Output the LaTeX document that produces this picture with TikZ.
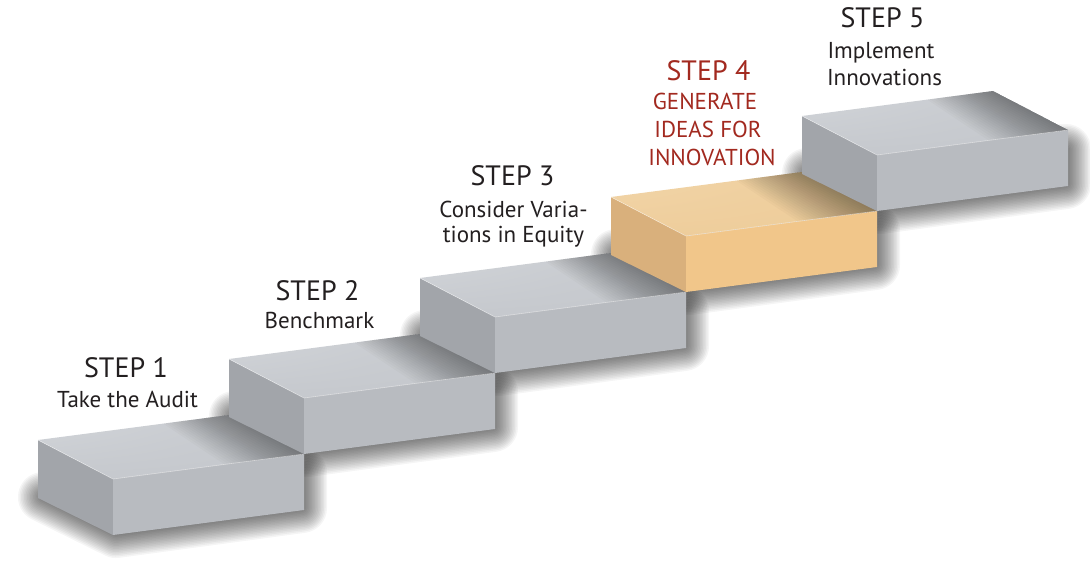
\documentclass[tikz,border=0pt]{standalone}
\usepackage{fontspec}
\setmainfont{PT Sans}
\usetikzlibrary{shadings}
\definecolor{txt}{HTML}{231F20}
\definecolor{redtxt}{HTML}{A2291F}
\definecolor{gtop}{HTML}{C5C8CD}
\definecolor{gtopL}{HTML}{D3D6DA}
\definecolor{gfront}{HTML}{B8BBC0}
\definecolor{gleft}{HTML}{A2A5AA}
\definecolor{otop}{HTML}{EECD9B}
\definecolor{otopL}{HTML}{F2D6AA}
\definecolor{ofront}{HTML}{F1C68A}
\definecolor{oleft}{HTML}{D9B07C}
\tikzset{
  steptitle/.style={font=\fontsize{28}{30}\selectfont, text=txt, anchor=base, inner sep=0pt},
  stepsub/.style={font=\fontsize{23}{25}\selectfont, text=txt, anchor=base, inner sep=0pt},
  redtitle/.style={font=\fontsize{28}{30}\selectfont, text=redtxt, anchor=base, inner sep=0pt},
  redsub/.style={font=\fontsize{23}{25}\selectfont, text=redtxt, anchor=base, inner sep=0pt},
}
% soft drop shadow of block with front-left-top corner (#1,#2)
\newcommand\blockshadow[2]{%
  \foreach \w in {2,5,...,50}{%
    \filldraw[black, opacity=0.038, line width=\w pt, line join=round]
      (#1-70,#2+18) -- (#1+3,#2+54) -- (#1+189,#2+29) -- (#1+189,#2-6) -- (#1+120,#2-6) -- cycle;
  }%
}
% block: #1,#2 front-left-top corner; #3 top light, #4 top, #5 front, #6 left
\newcommand\stepblock[6]{%
  % left face
  \fill[#6] (#1-75,#2-39) -- (#1,#2) -- (#1,#2+56) -- (#1-75,#2+19) -- cycle;
  % front face
  \fill[#5] (#1,#2) -- (#1+191,#2-25) -- (#1+191,#2+31) -- (#1,#2+56) -- cycle;
  % top face
  \begin{scope}
    \clip (#1-75,#2-39) -- (#1,#2) -- (#1+191,#2-25) -- (#1+116,#2-64) -- cycle;
    \shade[upper left=#3, lower left=#4, upper right=#4, lower right=#4]
      (#1-76,#2-65) rectangle (#1+192,#2+1);
    \foreach \w in {3,6,...,66}{%
      \fill[black, opacity=0.018]
        (#1+116-\w,#2-64+0.13*\w) -- (#1+116,#2-64) -- (#1+191,#2-25) -- (#1+191-\w*1.2,#2-25+0.16*\w) -- cycle;
    }
  \end{scope}
  \draw[white, opacity=0.5, line width=0.6pt] (#1-75,#2-39) -- (#1,#2) -- (#1+191,#2-25);
}
\begin{document}
\begin{tikzpicture}[x=1pt,y=-1pt]
\useasboundingbox (0,0) rectangle (1090,576);
\fill[white] (0,0) rectangle (1090,576);
% shadows
\blockshadow{113}{479}
\blockshadow{304}{398}
\blockshadow{495}{317}
\blockshadow{686}{236}
\blockshadow{877}{155}
% blocks
\stepblock{113}{479}{gtopL}{gtop}{gfront}{gleft}
\stepblock{304}{398}{gtopL}{gtop}{gfront}{gleft}
\stepblock{495}{317}{gtopL}{gtop}{gfront}{gleft}
\stepblock{686}{236}{otopL}{otop}{ofront}{oleft}
\stepblock{877}{155}{gtopL}{gtop}{gfront}{gleft}
% texts
\node[steptitle] (s1) at (126,377) {STEP 1};
\node[stepsub] (s1a) at (127.5,407) {Take the Audit};
\node[steptitle] (s2) at (317.5,300) {STEP 2};
\node[stepsub] (s2a) at (319.5,328) {Benchmark};
\node[steptitle] (s3) at (512.5,185) {STEP 3};
\node[stepsub] (s3a) at (513.5,217) {Consider Varia-};
\node[stepsub] (s3b) at (513.5,242) {tions in Equity};
\node[redtitle] (s4) at (708.5,80) {STEP 4};
\node[redsub] (s4a) at (705,109) {GENERATE};
\node[redsub] (s4b) at (708,137) {IDEAS FOR};
\node[redsub] (s4c) at (712,165) {INNOVATION};
\node[steptitle] (s5) at (882.5,27) {STEP 5};
\node[stepsub] (s5a) at (881,58) {Implement};
\node[stepsub] (s5b) at (884.5,85) {Innovations};
\end{tikzpicture}
\end{document}
